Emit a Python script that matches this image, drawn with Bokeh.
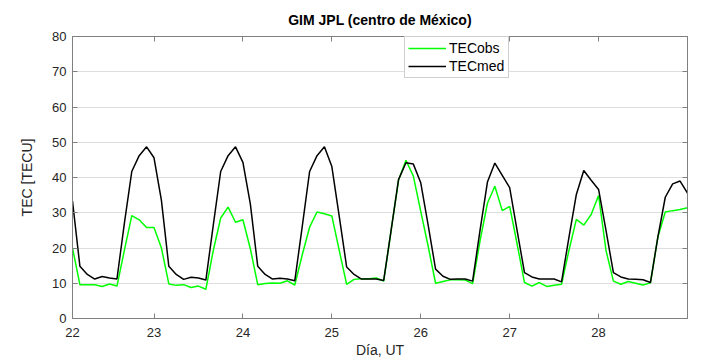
import numpy as np
from bokeh.plotting import figure
from bokeh.models import LinearAxis, Range1d, FixedTicker, CustomLabelingPolicy
from bokeh.embed import file_html
from bokeh.resources import INLINE

# sampling: every 2 hours UT starting on day 22 at 02 UT
hours = np.arange(2, 170, 2)
day = 22 + hours / 24.0

tec_obs = [20.0, 9.6, 9.6, 9.6, 9.1, 9.8, 9.2, 19.3, 29.2, 28.0, 25.8, 25.8,
           20.0, 9.8, 9.4, 9.6, 8.8, 9.2, 8.3, 19.3, 28.5, 31.6, 27.3, 28.0,
           19.8, 9.6, 9.9, 10.1, 10.0, 10.7, 9.5, 18.0, 25.9, 30.2, 29.7, 29.1,
           19.3, 9.7, 11.1, 11.3, 11.3, 11.5, 10.6, 25.0, 39.2, 44.9, 40.4, 30.4,
           20.5, 10.0, 10.5, 11.0, 11.0, 10.9, 9.9, 22.0, 32.7, 37.5, 30.6, 31.8,
           21.2, 10.2, 9.2, 10.2, 9.1, 9.4, 9.7, 19.3, 28.1, 26.5, 29.5, 34.9,
           19.3, 10.6, 9.7, 10.5, 10.0, 9.5, 10.1, 23.1, 30.2, 30.6, 30.9, 31.4]

tec_med = [33.3, 14.8, 12.5, 11.2, 11.9, 11.5, 11.2, 27.0, 41.7, 46.2, 48.7, 45.6,
           33.5, 14.8, 12.5, 11.1, 11.7, 11.5, 10.9, 26.5, 41.7, 46.2, 48.7, 44.3,
           32.5, 14.8, 12.5, 11.2, 11.4, 11.2, 10.7, 26.0, 41.7, 46.2, 48.7, 43.1,
           29.0, 14.6, 12.5, 11.2, 11.2, 11.2, 10.8, 25.0, 39.4, 44.2, 43.8, 38.5,
           26.5, 14.0, 12.0, 11.1, 11.2, 11.2, 10.6, 25.0, 38.7, 44.1, 40.6, 37.1,
           25.0, 13.0, 11.8, 11.2, 11.2, 11.2, 10.4, 23.0, 35.2, 42.0, 39.2, 36.6,
           25.0, 13.0, 11.8, 11.2, 11.1, 11.0, 10.2, 23.1, 34.4, 38.2, 39.0, 35.6]

x_start = float(day[0])
x_ticks = [23, 24, 25, 26, 27, 28]
y_ticks = [0, 10, 20, 30, 40, 50, 60, 70, 80]

FONT = "Liberation Sans"
AX = "#808080"
TXT = "#262626"

p = figure(width=713, height=360, output_backend="svg", toolbar_location=None,
           x_range=Range1d(x_start, 29), y_range=Range1d(0, 80),
           min_border_left=72, min_border_right=26, min_border_top=36, min_border_bottom=42,
           title="GIM JPL (centro de México)")

p.title.align = "center"
p.title.text_font = FONT
p.title.text_font_size = "14px"
p.title.text_font_style = "bold"
p.title.text_color = "#000000"

p.outline_line_color = AX
p.xgrid.visible = False
p.ygrid.grid_line_color = "#dedede"
p.ygrid.ticker = FixedTicker(ticks=y_ticks)

def style(ax, labels=True):
    ax.axis_line_color = AX
    ax.major_tick_line_color = AX
    ax.major_tick_in = 5
    ax.major_tick_out = 0
    ax.minor_tick_line_color = None
    ax.major_label_text_font = FONT
    ax.major_label_text_font_size = "13px" if labels else "1px"
    ax.major_label_text_color = TXT
    ax.axis_label_text_font = FONT
    ax.axis_label_text_font_size = "14px"
    ax.axis_label_text_font_style = "normal"
    ax.axis_label_text_color = TXT
    if not labels:
        ax.major_label_policy = CustomLabelingPolicy(
            code="const ids = [...indices]; for (const i of ids) indices.unset(i); return indices")

# the first label "22" sits at the left edge of the plotted interval
p.xaxis.ticker = FixedTicker(ticks=[x_start] + x_ticks)
p.xaxis.major_label_overrides = {x_start: "22"}
p.yaxis.ticker = FixedTicker(ticks=y_ticks)
p.xaxis.axis_label = "Día, UT"
p.yaxis.axis_label = "TEC [TECU]"
style(p.xaxis[0])
style(p.yaxis[0])
p.xaxis.major_label_standoff = 9
p.xaxis.axis_label_standoff = 2
p.yaxis.major_label_standoff = 6
p.yaxis.axis_label_standoff = 14

top = LinearAxis(ticker=FixedTicker(ticks=x_ticks), major_label_standoff=0)
style(top, labels=False)
p.add_layout(top, "above")
right = LinearAxis(ticker=FixedTicker(ticks=y_ticks), major_label_standoff=0)
style(right, labels=False)
p.add_layout(right, "right")

p.line(day, tec_obs, line_color="#00ff00", line_width=1.5, legend_label="TECobs")
p.line(day, tec_med, line_color="#000000", line_width=1.5, legend_label="TECmed")

lg = p.legend[0]
lg.location = (332, 240)
lg.border_line_color = "#a0a0a0"
lg.background_fill_color = "#ffffff"
lg.background_fill_alpha = 1
lg.label_text_font = FONT
lg.label_text_font_size = "14px"
lg.label_text_color = "#000000"
lg.glyph_width = 38
lg.glyph_height = 14
lg.label_height = 14
lg.label_width = 56
lg.padding = 3
lg.spacing = 2
lg.margin = 0
lg.label_standoff = 3

open("out.html", "w").write(file_html(p, INLINE))
